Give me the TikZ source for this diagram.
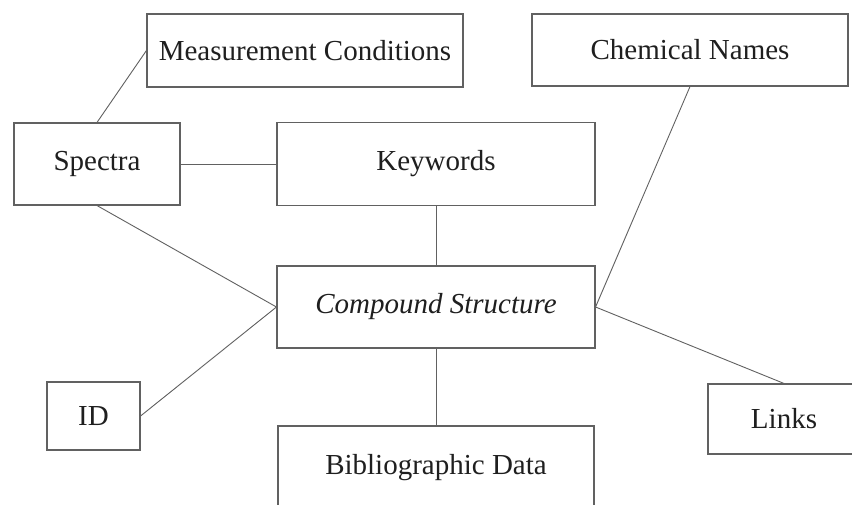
\documentclass[tikz,border=0pt]{standalone}
\usepackage{fontspec}
\setmainfont{Liberation Serif}
\begin{document}
\begin{tikzpicture}[x=1pt,y=-1pt,
  box/.style={draw=black!62,line width=1.1pt,rectangle,inner sep=0pt,
    font=\fontsize{29}{34}\selectfont,text=black!88},
  link/.style={draw=black!62,line width=0.9pt}]
\useasboundingbox (0,0) rectangle (852,504);
\clip (0,0) rectangle (852,504);
\fill[white] (0,0) rectangle (852,504);
\node[box,minimum width=316pt,minimum height=73pt] (mc) at (305,50.5) {Measurement Conditions};
\node[box,minimum width=166pt,minimum height=82pt] (spec) at (97,164) {Spectra};
\node[box,minimum width=318pt,minimum height=83pt] (kw) at (436,164) {Keywords};
\node[box,minimum width=316pt,minimum height=72pt] (chem) at (690,50) {Chemical Names};
\node[box,minimum width=318pt,minimum height=82pt] (cs) at (436,307) {\itshape Compound Structure};
\node[box,minimum width=93pt,minimum height=68pt] (id) at (93.5,416) {ID};
\node[box,minimum width=316pt,minimum height=84pt] (bib) at (436,468) {Bibliographic Data};
\node[box,minimum width=152pt,minimum height=70pt] (links) at (784,419) {Links};
\draw[link] (spec.north) -- (mc.west);
\draw[link] (spec.east) -- (kw.west);
\draw[link] (kw.south) -- (cs.north);
\draw[link] (spec.south) -- (cs.west);
\draw[link] (id.east) -- (cs.west);
\draw[link] (cs.south) -- (bib.north);
\draw[link] (chem.south) -- (cs.east);
\draw[link] (cs.east) -- (links.north);
\end{tikzpicture}
\end{document}
